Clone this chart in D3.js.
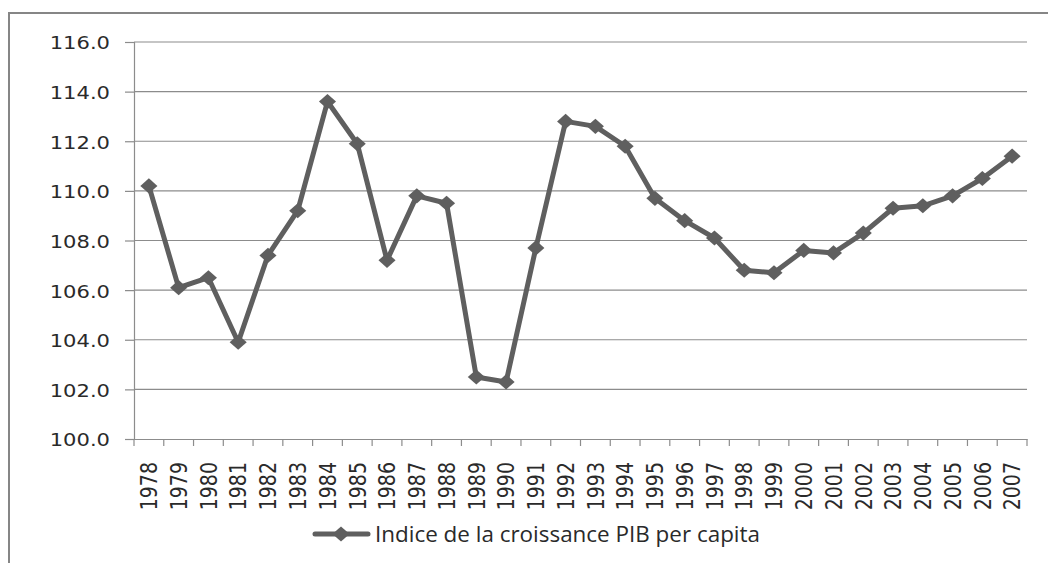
<!DOCTYPE html>
<html>
<head>
<meta charset="utf-8">
<script src="https://cdn.jsdelivr.net/npm/d3@7"></script>
<style>
  body { margin: 0; background: #fff; }
  svg { display: block; }
</style>
</head>
<body>
<svg width="1048" height="563"></svg>
<script>
const width = 1048;
const height = 563;

const years = ['1978','1979','1980','1981','1982','1983','1984','1985','1986','1987',
               '1988','1989','1990','1991','1992','1993','1994','1995','1996','1997',
               '1998','1999','2000','2001','2002','2003','2004','2005','2006','2007'];
const indexValues = [110.2, 106.1, 106.5, 103.9, 107.4, 109.2, 113.6, 111.9, 107.2, 109.8,
                     109.5, 102.5, 102.3, 107.7, 112.8, 112.6, 111.8, 109.7, 108.8, 108.1,
                     106.8, 106.7, 107.6, 107.5, 108.3, 109.3, 109.4, 109.8, 110.5, 111.4];
const yTicks = [100, 102, 104, 106, 108, 110, 112, 114, 116];
const seriesName = 'Indice de la croissance PIB per capita';

const plot = { left: 134, right: 1027, top: 42, bottom: 439 };
const lineColor = '#5f5f5f';
const gridColor = '#8c8c8c';
const textColor = '#2a2a2a';

const svg = d3.select('svg');

// outer chart frame
svg.append('rect')
  .attr('x', 9).attr('y', 13)
  .attr('width', 1060).attr('height', 600)
  .attr('fill', 'none')
  .attr('stroke', '#868686')
  .attr('stroke-width', 2);

let xScale = d3.scaleBand()
  .domain(years)
  .range([plot.left, plot.right])
  .padding(0);

let yScale = d3.scaleLinear()
  .domain([100, 116])
  .range([plot.bottom, plot.top]);

// gridlines
svg.append('g')
  .selectAll('line')
  .data(yTicks.filter(d => d > 100))
  .enter()
  .append('line')
    .attr('x1', plot.left)
    .attr('x2', plot.right)
    .attr('y1', d => yScale(d))
    .attr('y2', d => yScale(d))
    .attr('stroke', gridColor)
    .attr('stroke-width', 1.2);

// Y - Axis
let yAxis = svg.append('g')
  .attr('transform', 'translate(' + plot.left + ',0)')
  .call(d3.axisLeft(yScale).tickValues(yTicks).tickFormat(d3.format('.1f')).tickSize(9).tickPadding(0));

yAxis.select('.domain').attr('stroke', gridColor).attr('stroke-width', 1.2);
yAxis.selectAll('.tick line').attr('stroke', gridColor).attr('stroke-width', 1.2);
yAxis.selectAll('.tick text')
  .attr('x', null).attr('dy', null)
  .attr('transform', 'translate(-24,1) scale(1.17,1)')
  .attr('dominant-baseline', 'central')
  .style('font-family', 'DejaVu Sans')
  .style('font-size', '18px')
  .attr('fill', textColor);

// X - Axis (labels centred on categories)
let xAxis = svg.append('g')
  .attr('transform', 'translate(0,' + plot.bottom + ')')
  .call(d3.axisBottom(xScale).tickSize(0));

xAxis.select('.domain').attr('stroke', gridColor).attr('stroke-width', 1.2);
xAxis.selectAll('.tick text')
  .attr('y', null).attr('dy', null)
  .attr('transform', 'translate(0,23) scale(1.25,1) rotate(-90)')
  .attr('text-anchor', 'end')
  .attr('dominant-baseline', 'central')
  .style('font-family', 'DejaVu Sans')
  .style('font-size', '19px')
  .attr('fill', textColor);

// tick marks on category boundaries
let boundaries = years.map(d => xScale(d)).concat([plot.right]);
svg.append('g')
  .selectAll('line')
  .data(boundaries)
  .enter()
  .append('line')
    .attr('x1', d => d).attr('x2', d => d)
    .attr('y1', plot.bottom).attr('y2', plot.bottom + 7)
    .attr('stroke', gridColor)
    .attr('stroke-width', 1.2);

// diamond marker
const diamond = {
  draw(ctx, size) {
    const w = Math.sqrt(size) * 0.62;
    const h = Math.sqrt(size) * 0.55;
    ctx.moveTo(0, -h);
    ctx.lineTo(w, 0);
    ctx.lineTo(0, h);
    ctx.lineTo(-w, 0);
    ctx.closePath();
  }
};
const marker = d3.symbol().type(diamond).size(190);

let points = years.map((y, i) => ({ year: y, value: indexValues[i] }));

let line = d3.line()
  .x(d => xScale(d.year) + xScale.bandwidth() / 2)
  .y(d => yScale(d.value));

svg.append('path')
  .datum(points)
  .attr('d', line)
  .attr('fill', 'none')
  .attr('stroke', lineColor)
  .attr('stroke-width', 5)
  .attr('stroke-linejoin', 'round');

svg.selectAll('.marker')
  .data(points)
  .enter()
  .append('path')
    .classed('marker', true)
    .attr('d', marker)
    .attr('transform', d => 'translate(' + (xScale(d.year) + xScale.bandwidth() / 2) + ',' + yScale(d.value) + ')')
    .attr('fill', lineColor);

// legend
let legend = svg.append('g').attr('transform', 'translate(315,534)');
legend.append('line')
  .attr('x1', 0).attr('x2', 53)
  .attr('y1', 0).attr('y2', 0)
  .attr('stroke', lineColor)
  .attr('stroke-width', 5)
  .attr('stroke-linecap', 'round');
legend.append('path')
  .attr('d', marker)
  .attr('transform', 'translate(26,0)')
  .attr('fill', lineColor);
legend.append('text')
  .text(seriesName)
  .attr('x', 60)
  .attr('y', 0)
  .attr('dominant-baseline', 'central')
  .attr('textLength', 385)
  .attr('lengthAdjust', 'spacingAndGlyphs')
  .style('font-family', 'Open Sans')
  .style('font-size', '21px')
  .attr('fill', textColor);
</script>
</body>
</html>
